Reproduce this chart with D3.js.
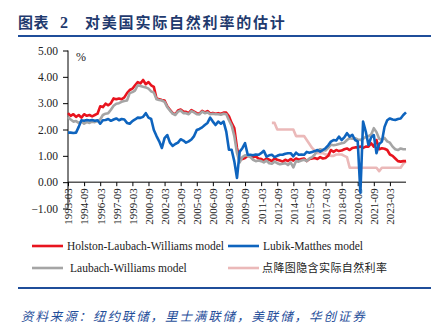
<!DOCTYPE html>
<html>
<head>
<meta charset="utf-8">
<script src="https://cdn.jsdelivr.net/npm/d3@7"></script>
<style>
  html, body { margin: 0; padding: 0; background: #fff; }
  svg { display: block; }
</style>
</head>
<body>
<svg id="chart" width="444" height="325"></svg>
<script>
// ---------- DATA (quarterly, 1993Q1 .. 2024Q3) ----------
const startYear = 1993;
const quarters = d3.range(127).map(i => `${startYear + Math.floor(i / 4)}Q${(i % 4) + 1}`);

const tickLabels = ["1993-03","1994-09","1996-03","1997-09","1999-03","2000-09","2002-03",
  "2003-09","2005-03","2006-09","2008-03","2009-09","2011-03","2012-09","2014-03",
  "2015-09","2017-03","2018-09","2020-03","2021-09","2023-03"];
const tickQuarters = ["1993Q1","1994Q3","1996Q1","1997Q3","1999Q1","2000Q3","2002Q1",
  "2003Q3","2005Q1","2006Q3","2008Q1","2009Q3","2011Q1","2012Q3","2014Q1",
  "2015Q3","2017Q1","2018Q3","2020Q1","2021Q3","2023Q1"];

const yTicks = [-1, 0, 1, 2, 3, 4, 5];

// Holston-Laubach-Williams model
const hlw = [
  2.62,2.52,2.58,2.48, 2.55,2.45,2.58,2.52, 2.55,2.50,2.55,2.60, 2.88,2.85,2.98,2.92,
  3.00,3.18,3.15,3.18, 3.15,3.22,3.38,3.50, 3.55,3.68,3.80,3.75, 3.88,3.72,3.80,3.68,
  3.62,3.18,3.15,3.12, 3.10,2.88,2.75,2.62, 2.58,2.72,2.76,2.68, 2.67,2.62,2.74,2.68,
  2.62,2.60,2.71,2.65, 2.70,2.61,2.63,2.60, 2.62,2.60,2.64,2.64, 2.50,2.25,2.05,1.30,
  0.85,0.88,0.92,1.00, 1.00,0.95,0.98,0.90, 0.88,0.82,0.90,0.85, 0.80,0.90,0.85,0.82,
  0.78,0.85,0.80,0.88, 0.82,0.90,0.85,0.88, 0.90,0.80,0.88,0.90, 0.92,0.88,0.95,0.90,
  0.92,1.00,1.22,1.15, 1.22,1.18,1.20,1.25, 1.28,1.22,1.30,1.32, 1.32,1.35,1.30,1.35,
  1.35,1.48,1.35,1.60, 1.25,1.29,1.27,1.22, 1.05,1.00,0.90,0.80, 0.78,0.80,0.80
];

// Lubik-Matthes model
const lm = [
  1.88,1.88,1.87,1.88, 2.10,2.35,2.33,2.36, 2.34,2.36,2.33,2.35, 2.22,2.35,2.36,2.40,
  2.33,2.38,2.42,2.35, 2.40,2.38,2.25,2.22, 2.32,2.38,2.45,2.44, 2.48,2.62,2.45,2.40,
  1.98,1.75,1.55,1.30, 1.67,1.79,1.50,1.38, 1.45,1.50,1.63,1.58, 1.50,1.55,1.62,1.75,
  1.98,2.02,2.08,2.17, 2.25,2.45,2.30,2.17, 2.30,2.22,2.30,1.92, 1.23,1.23,0.79,0.16,
  1.16,1.29,1.48,1.04, 1.04,1.02,1.05,1.04, 1.10,1.19,0.97,1.02, 1.04,0.95,1.00,1.04,
  1.04,1.08,1.10,1.10, 0.98,1.12,1.04,1.05, 1.04,1.15,1.12,1.15, 1.18,1.22,1.16,1.22,
  1.29,1.40,1.54,1.60, 1.58,1.73,1.60,1.70, 1.86,1.73,1.80,1.60, 1.55,-0.40,2.30,1.92,
  1.41,1.70,1.79,1.10, 1.45,1.54,2.10,2.35, 2.42,2.38,2.36,2.40, 2.42,2.55,2.65
];

// Laubach-Williams model
const lw = [
  2.47,2.38,2.30,2.32, 2.25,2.30,2.22,2.28, 2.25,2.30,2.28,2.32, 2.38,2.55,2.60,2.62,
  2.75,2.90,2.98,3.00, 3.05,3.08,3.10,3.38, 3.42,3.48,3.68,3.65, 3.62,3.60,3.55,3.45,
  3.40,3.15,3.12,3.10, 3.05,2.85,2.72,2.60, 2.55,2.68,2.72,2.62, 2.62,2.58,2.70,2.65,
  2.58,2.57,2.68,2.62, 2.65,2.58,2.60,2.58, 2.58,2.56,2.60,2.58, 2.35,2.15,1.75,1.10,
  0.75,0.95,1.02,1.00, 0.95,0.85,0.80,0.82, 0.80,0.75,0.82,0.72, 0.70,0.78,0.72,0.68,
  0.70,0.72,0.65,0.75, 0.56,0.80,0.78,0.82, 0.85,0.80,0.90,0.95, 1.05,1.20,1.25,1.22,
  1.20,1.30,1.42,1.40, 1.42,1.45,1.48,1.50, 1.60,1.67,1.65,1.67, 1.62,1.60,1.65,1.72,
  1.75,1.80,2.05,1.90, 1.65,1.60,1.68,1.55, 1.50,1.35,1.25,1.22, 1.28,1.25,1.25
];

// 点降图隐含实际自然利率 (starts 2012Q1)
const dotStart = "2012Q1";
const dot = [
  2.25,2.25,2.00,2.00, 2.00,2.00,2.00,2.00, 2.00,1.75,1.75,1.75, 1.75,1.60,1.45,1.30,
  1.20,1.10,1.10,1.10, 1.05,1.05,1.00,1.00, 1.05,1.05,1.05,1.00, 0.95,0.55,0.55,0.55,
  0.55,0.55,0.55,0.55, 0.55,0.55,0.55,0.55, 0.42,0.55,0.55,0.55, 0.55,0.55,0.55,0.55,
  0.55,0.70,0.80
];

const seriesNames = ["Holston-Laubach-Williams model", "Lubik-Matthes model",
                     "Laubach-Williams model", "点降图隐含实际自然利率"];
const seriesColors = ["#E8141E", "#0E64BE", "#A5A5A5", "#EBB9B9"];

// ---------- CHART ----------
const svg = d3.select("#chart");
const serif = "'Liberation Serif', 'Times New Roman', serif";
const cjk = "'Noto Sans CJK SC', sans-serif";

const x = d3.scaleLinear().domain([0, quarters.length - 1]).range([68, 406]);
const y = d3.scaleLinear().domain([-1, 5]).range([208.5, 50.5]);

// title
const titleParts = [
  {tx: 18, s: "图表", ls: 0.5},
  {tx: 60, s: "2", ls: 0},
  {tx: 85, s: "对美国实际自然利率的估计", ls: 1.8}
];
titleParts.forEach(p => {
  svg.append("text")
    .attr("x", p.tx).attr("y", 28)
    .attr("font-family", p.s === "2" ? serif : cjk).attr("font-weight", "bold")
    .attr("font-size", p.s === "2" ? 16 : 15).attr("fill", "#1F3A6E")
    .attr("letter-spacing", p.ls)
    .text(p.s);
});

svg.append("line").attr("x1", 18).attr("x2", 431).attr("y1", 36).attr("y2", 36)
  .attr("stroke", "#1F4E9A").attr("stroke-width", 2);

// y axis
const yAxis = d3.axisLeft(y).tickValues(yTicks).tickFormat(d3.format(".2f")).tickSize(5).tickPadding(5);
const gy = svg.append("g").attr("transform", "translate(68,0)").call(yAxis);
gy.select(".domain").attr("stroke", "#000").attr("stroke-width", 1)
  .attr("d", `M0,${y(5)}V${y(-1)}`);
gy.selectAll(".tick line").attr("stroke", "#000");
gy.selectAll("text").attr("font-family", serif).attr("font-size", 11.5).attr("fill", "#222");

// % label
svg.append("text").attr("x", 76).attr("y", 61)
  .attr("font-family", serif).attr("font-size", 12).attr("fill", "#222").text("%");

// x axis at 0
const tickIdx = tickQuarters.map(q => quarters.indexOf(q));
const xAxis = d3.axisBottom(x).tickValues(tickIdx)
  .tickFormat((d, i) => tickLabels[i]).tickSize(4).tickPadding(2);
const gx = svg.append("g").attr("transform", `translate(0,${y(0)})`).call(xAxis);
gx.select(".domain").attr("stroke", "#000").attr("d", `M${x(0)},0H${x(quarters.length - 1)}`);
gx.selectAll(".tick line").attr("stroke", "#000");
gx.selectAll("text")
  .attr("font-family", serif).attr("font-size", 11).attr("fill", "#222")
  .attr("text-anchor", "end")
  .attr("transform", "rotate(-90)")
  .attr("x", -6).attr("y", 0).attr("dy", "0.35em");

// lines
const line = d3.line()
  .defined(d => d != null)
  .x((d, i) => x(i))
  .y(d => y(d));

const dotFull = quarters.map((q, i) => {
  const k = i - quarters.indexOf(dotStart);
  return k >= 0 && k < dot.length ? dot[k] : null;
});

const drawOrder = [
  {data: dotFull, color: seriesColors[3]},
  {data: hlw, color: seriesColors[0]},
  {data: lw, color: seriesColors[2]},
  {data: lm, color: seriesColors[1]}
];
const plot = svg.append("g");
drawOrder.forEach(s => {
  plot.append("path").datum(s.data)
    .attr("fill", "none").attr("stroke", s.color)
    .attr("stroke-width", 2.6).attr("stroke-linejoin", "round")
    .attr("d", line);
});

// legend
const legendPos = [
  {lx: 32, ty: 246, tx: 67},
  {lx: 228, ty: 246, tx: 263},
  {lx: 32, ty: 268, tx: 70},
  {lx: 228, ty: 268, tx: 262}
];
seriesNames.forEach((name, i) => {
  const p = legendPos[i];
  svg.append("line").attr("x1", p.lx).attr("x2", p.lx + 31)
    .attr("y1", p.ty).attr("y2", p.ty)
    .attr("stroke", seriesColors[i]).attr("stroke-width", 2.6);
  const t = svg.append("text").attr("x", p.tx).attr("y", p.ty).attr("dy", "0.35em")
    .attr("fill", "#222").text(name);
  if (i === 3) t.attr("font-family", cjk).attr("font-size", 11).attr("letter-spacing", 0.4);
  else t.attr("font-family", serif).attr("font-size", 11.5);
});

// bottom rule + source
svg.append("line").attr("x1", 18).attr("x2", 431).attr("y1", 288).attr("y2", 288)
  .attr("stroke", "#1F4E9A").attr("stroke-width", 2);
svg.append("text").attr("x", 21).attr("y", 321)
  .attr("font-family", cjk).attr("font-size", 12.5).attr("font-style", "italic")
  .attr("letter-spacing", 1.9)
  .attr("fill", "#1F4E9A")
  .text("资料来源：纽约联储，里士满联储，美联储，华创证券");
</script>
</body>
</html>
